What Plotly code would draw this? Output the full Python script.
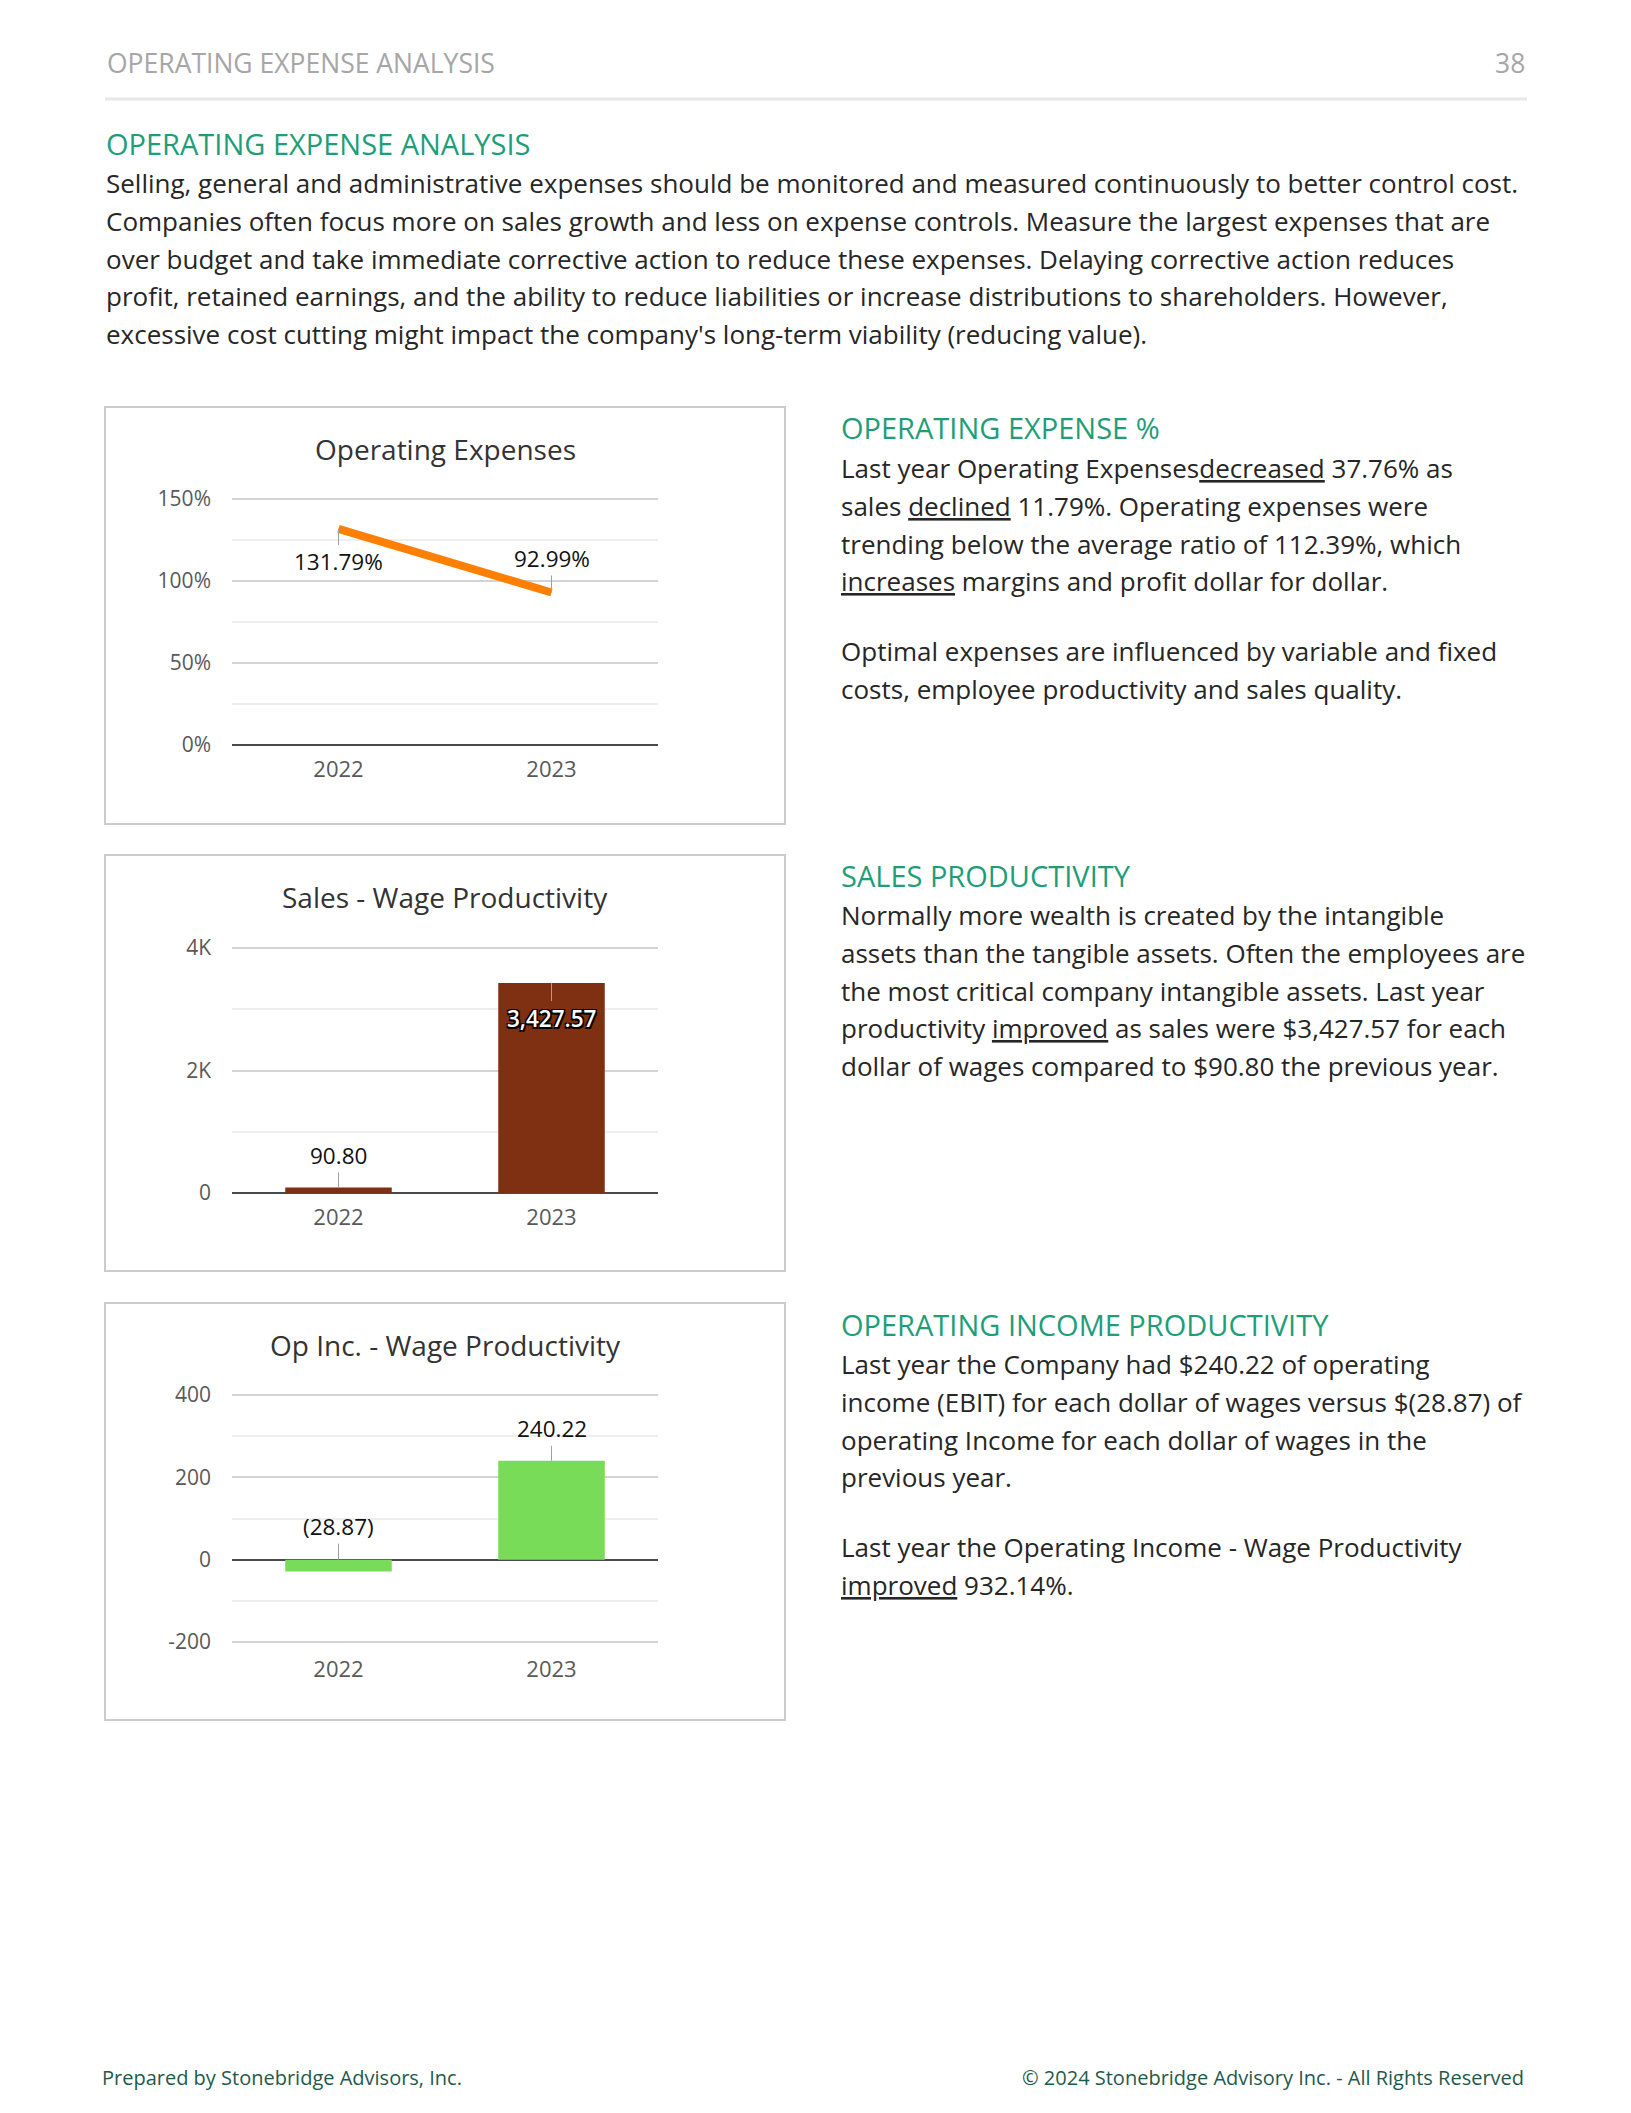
import plotly.graph_objects as go

W, H = 1631, 2113

# ---------------- data ----------------
years = ["2022", "2023"]
opex_pct = [131.79, 92.99]
opex_labels = ["131.79%", "92.99%"]
sales_wage = [90.80, 3427.57]
sales_wage_labels = ["90.80", "3,427.57"]
opinc_wage = [-28.87, 240.22]
opinc_wage_labels = ["(28.87)", "240.22"]

header_title = "OPERATING EXPENSE ANALYSIS"
page_number = "38"
section_title = "OPERATING EXPENSE ANALYSIS"
intro_lines = [
    "Selling, general and administrative expenses should be monitored and measured continuously to better control cost.",
    "Companies often focus more on sales growth and less on expense controls. Measure the largest expenses that are",
    "over budget and take immediate corrective action to reduce these expenses. Delaying corrective action reduces",
    "profit, retained earnings, and the ability to reduce liabilities or increase distributions to shareholders. However,",
    "excessive cost cutting might impact the company's long-term viability (reducing value).",
]
sec1_title = "OPERATING EXPENSE %"
sec1_lines = [
    "Last year Operating Expenses<u>decreased</u> 37.76% as",
    "sales <u>declined</u> 11.79%. Operating expenses were",
    "trending below the average ratio of 112.39%, which",
    "<u>increases</u> margins and profit dollar for dollar.",
    "",
    "Optimal expenses are influenced by variable and fixed",
    "costs, employee productivity and sales quality.",
]
sec2_title = "SALES PRODUCTIVITY"
sec2_lines = [
    "Normally more wealth is created by the intangible",
    "assets than the tangible assets. Often the employees are",
    "the most critical company intangible assets. Last year",
    "productivity <u>improved</u> as sales were $3,427.57 for each",
    "dollar of wages compared to $90.80 the previous year.",
]
sec3_title = "OPERATING INCOME PRODUCTIVITY"
sec3_lines = [
    "Last year the Company had $240.22 of operating",
    "income (EBIT) for each dollar of wages versus $(28.87) of",
    "operating Income for each dollar of wages in the",
    "previous year.",
    "",
    "Last year the Operating Income - Wage Productivity",
    "<u>improved</u> 932.14%.",
]
footer_left = "Prepared by Stonebridge Advisors, Inc."
footer_right = "© 2024 Stonebridge Advisory Inc. - All Rights Reserved"
chart_titles = ["Operating Expenses", "Sales - Wage Productivity", "Op Inc. - Wage Productivity"]

# ---------------- style ----------------
FONT = "Open Sans"
GREEN = "#1E9E78"
TEXT = "#262626"
TICK = "#595959"
GRID = "#d3d3d3"
MINOR = "#eeeeee"
ORANGE = "#FF7F00"
BROWN = "#7F2F12"
LIME = "#79DC58"
BODY = 26
HEAD = 29
OX, OY = 8, 8  # page body margin compensation


def px(x):
    return (x - OX) / W


def py(y):
    return 1 - (y - OY) / H


fig = go.Figure()

fig.add_trace(go.Scatter(x=years, y=opex_pct, mode="lines", line=dict(color=ORANGE, width=8),
                         xaxis="x", yaxis="y", showlegend=False, hoverinfo="skip"))
fig.add_trace(go.Bar(x=years, y=sales_wage, marker=dict(color=BROWN, line=dict(width=0)), width=0.5,
                     xaxis="x2", yaxis="y2", showlegend=False))
fig.add_trace(go.Bar(x=years, y=opinc_wage, marker=dict(color=LIME, line=dict(width=0)), width=0.5,
                     xaxis="x3", yaxis="y3", showlegend=False))

xdom = [px(232), px(658)]
ydoms = [[py(745), py(497.4)], [py(1193), py(945.6)], [py(1644.5), py(1392.5)]]

xaxis_common = dict(domain=xdom, type="category", range=[-0.5, 1.5], showgrid=False, automargin=False,
                    showline=False, zeroline=False, ticks="", ticklabelstandoff=9,
                    tickfont=dict(family=FONT, size=22, color=TICK), fixedrange=True)
yaxis_common = dict(showgrid=True, gridcolor=GRID, gridwidth=2, zeroline=True, zerolinecolor="#4a4a4a",
                    zerolinewidth=2, showline=False, ticks="", ticklabelstandoff=20, automargin=False,
                    tickfont=dict(family=FONT, size=21, color=TICK), fixedrange=True)

fig.update_layout(
    xaxis=dict(**xaxis_common, anchor="y"),
    xaxis2=dict(**xaxis_common, anchor="y2"),
    xaxis3=dict(**xaxis_common, anchor="y3"),
    yaxis=dict(**yaxis_common, domain=ydoms[0], anchor="x", range=[0, 151], tickvals=[0, 50, 100, 150],
               ticktext=["0%", "50%", "100%", "150%"],
               minor=dict(tickvals=[25, 75, 125], showgrid=True, gridcolor=MINOR, gridwidth=2)),
    yaxis2=dict(**yaxis_common, domain=ydoms[1], anchor="x2", range=[0, 4040], tickvals=[0, 2000, 4000],
                ticktext=["0", "2K", "4K"],
                minor=dict(tickvals=[1000, 3000], showgrid=True, gridcolor=MINOR, gridwidth=2)),
    yaxis3=dict(**yaxis_common, domain=ydoms[2], anchor="x3", range=[-206, 406],
                tickvals=[-200, 0, 200, 400], ticktext=["-200", "0", "200", "400"],
                minor=dict(tickvals=[-100, 100, 300], showgrid=True, gridcolor=MINOR, gridwidth=2)),
)

shapes = []
annotations = []


def note(x, y, text, size, color, anchor="left"):
    annotations.append(dict(x=px(x), y=py(y), xref="paper", yref="paper", xanchor=anchor, yanchor="middle",
                            text=text, showarrow=False, font=dict(family=FONT, size=size, color=color)))


# header
note(105, 63, header_title, 26.5, "#a6a6a6")
note(1527, 63, page_number, 26.5, "#a6a6a6", anchor="right")
shapes.append(dict(type="line", xref="paper", yref="paper", x0=px(105), x1=px(1527), y0=py(99), y1=py(99),
                   line=dict(color="#e8e8e8", width=3)))

# section title + intro
note(104, 143, section_title, HEAD, GREEN)
for i, line in enumerate(intro_lines):
    note(104, 183 + i * 37.8, line, BODY, TEXT)


def add_section(title, lines, y_title, y_first):
    note(839, y_title, title, HEAD, GREEN)
    y = y_first
    for line in lines:
        if line == "":
            y += 32
            continue
        note(839, y, line, BODY, TEXT)
        y += 37.8


add_section(sec1_title, sec1_lines, 427, 468)
add_section(sec2_title, sec2_lines, 875, 915)
add_section(sec3_title, sec3_lines, 1324, 1364)

# chart boxes + titles
boxes = [(407, 824), (855, 1271), (1303, 1720)]
title_y = [449, 897, 1345]
for (y0, y1), t, ty in zip(boxes, chart_titles, title_y):
    shapes.append(dict(type="rect", xref="paper", yref="paper", x0=px(105), x1=px(785), y0=py(y1), y1=py(y0),
                       line=dict(color="#cccccc", width=2), fillcolor="rgba(0,0,0,0)"))
    note(445, ty, t, 28, "#333333", anchor="center")

# data labels with leader lines (category positions by index)
lab_font = dict(family=FONT, size=22.5, color="#111111")
leader = dict(showarrow=True, arrowhead=0, arrowwidth=1, arrowcolor="#a0a0a0", ax=0, standoff=0)
i22, i23 = years.index("2022"), years.index("2023")
annotations.append(dict(x=i22, y=opex_pct[0], xref="x", yref="y", text=opex_labels[0], ay=33,
                        font=lab_font, **leader))
annotations.append(dict(x=i23, y=opex_pct[1], xref="x", yref="y", text=opex_labels[1], ay=-34,
                        font=lab_font, **leader))
annotations.append(dict(x=i22, y=sales_wage[0], xref="x2", yref="y2", text=sales_wage_labels[0], ay=-32,
                        font=lab_font, **leader))
annotations.append(dict(x=i23, y=sales_wage[1], xref="x2", yref="y2", text=sales_wage_labels[1], ay=35,
                        font=dict(family=FONT, size=22.5, color="white", weight=600,
                                  shadow="1.5px 1.5px 0 #000, -1.5px -1.5px 0 #000, 1.5px -1.5px 0 #000, "
                                         "-1.5px 1.5px 0 #000"),
                        **leader))
annotations.append(dict(x=i22, y=0, xref="x3", yref="y3", text=opinc_wage_labels[0], ay=-33,
                        font=lab_font, **leader))
annotations.append(dict(x=i23, y=opinc_wage[1], xref="x3", yref="y3", text=opinc_wage_labels[1], ay=-32,
                        font=lab_font, **leader))

# footer
note(100, 2077, footer_left, 20, "#1e5a4c")
note(1526, 2077, footer_right, 20, "#1e5a4c", anchor="right")

fig.update_layout(
    width=W, height=H, margin=dict(l=0, r=0, t=0, b=0, autoexpand=False), autosize=False,
    paper_bgcolor="white", plot_bgcolor="white", showlegend=False,
    shapes=shapes, annotations=annotations,
    font=dict(family=FONT),
)

fig.write_html("out.html", config={"displayModeBar": False})
